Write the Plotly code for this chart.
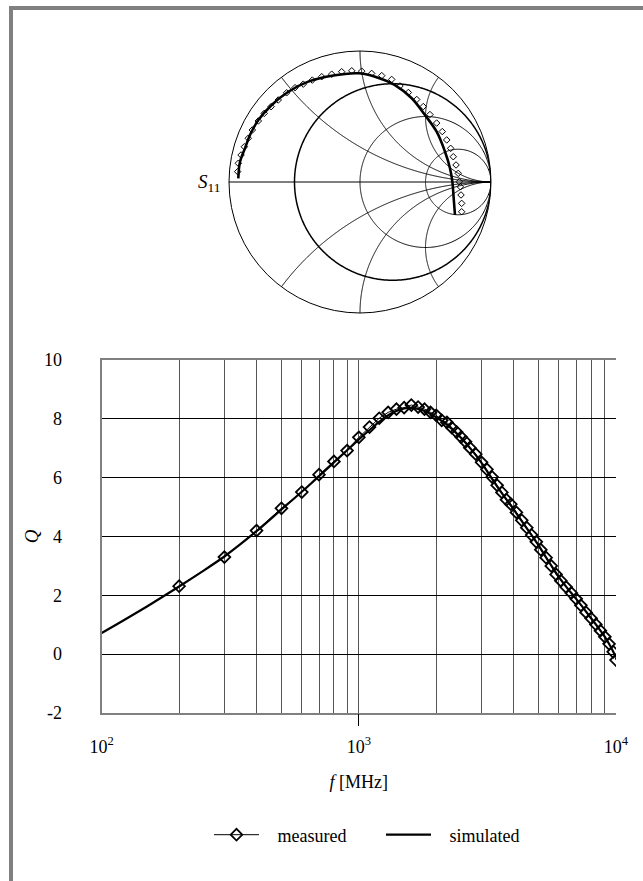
import numpy as np
import plotly.graph_objects as go

# ---------------- S11 (reflection coefficient, Re / Im) ----------------
s11_sim_re = [-0.929, -0.916, -0.878, -0.840, -0.776, -0.674, -0.547, -0.395, -0.216, -0.013,
              0.115, 0.267, 0.395, 0.496, 0.585, 0.649, 0.687, 0.705, 0.715, 0.725]
s11_sim_im = [0.028, 0.155, 0.257, 0.359, 0.473, 0.588, 0.689, 0.766, 0.811, 0.830,
              0.804, 0.740, 0.639, 0.511, 0.384, 0.231, 0.105, 0.002, -0.122, -0.252]

s11_meas_re = [-0.934, -0.929, -0.908, -0.883, -0.853, -0.822, -0.776, -0.731, -0.679, -0.624,
               -0.560, -0.496, -0.433, -0.364, -0.292, -0.216, -0.140, -0.063, 0.013, 0.089,
               0.166, 0.242, 0.305, 0.369, 0.433, 0.483, 0.534, 0.585, 0.628, 0.662,
               0.692, 0.712, 0.733, 0.750, 0.758, 0.766, 0.771, 0.776, 0.776]
s11_meas_im = [0.079, 0.143, 0.206, 0.269, 0.334, 0.397, 0.466, 0.524, 0.575, 0.626,
               0.681, 0.720, 0.747, 0.778, 0.804, 0.823, 0.842, 0.849, 0.846, 0.829,
               0.812, 0.783, 0.733, 0.683, 0.630, 0.576, 0.515, 0.450, 0.385, 0.321,
               0.257, 0.193, 0.130, 0.066, 0.002, -0.036, -0.099, -0.163, -0.227]

# ---------------- Quality factor versus frequency ----------------
f_sim = [100, 120, 150, 200, 250, 300, 400, 500, 600, 700, 800, 900, 1000, 1100, 1200,
         1300, 1400, 1500, 1600, 1700, 1800, 2000, 2200, 2500, 2800, 3000, 3500, 4000,
         4500, 5000, 5500, 6000, 6500, 7000, 7500, 8000, 8500, 9000, 9500, 10000]
q_sim = [0.72, 1.12, 1.62, 2.30, 2.85, 3.32, 4.18, 4.92, 5.52, 6.05, 6.52, 6.93, 7.30, 7.62, 7.90,
         8.12, 8.27, 8.35, 8.37, 8.34, 8.27, 8.05, 7.80, 7.35, 6.85, 6.50, 5.62, 4.92,
         4.28, 3.70, 3.12, 2.62, 2.22, 1.88, 1.55, 1.22, 0.92, 0.62, 0.28, -0.10]

f_meas = [200, 300, 400, 500, 600, 700, 800, 900, 1000,
          1100, 1200, 1300, 1400, 1500, 1600, 1700, 1800, 1900, 2000,
          2100, 2200, 2300, 2400, 2500, 2600, 2700, 2850, 3000, 3150,
          3300, 3450, 3600, 3750, 3900, 4100, 4300, 4500, 4700, 4900,
          5100, 5350, 5600, 5850, 6100, 6400, 6700, 7000, 7300, 7650,
          8000, 8350, 8700, 9050, 9400, 9750, 10000]
q_meas = [2.31, 3.30, 4.20, 4.96, 5.51, 6.10, 6.55, 6.92, 7.37,
          7.72, 8.02, 8.22, 8.33, 8.38, 8.47, 8.40, 8.33, 8.22, 8.12,
          7.95, 7.88, 7.70, 7.55, 7.38, 7.22, 7.02, 6.80, 6.52, 6.28,
          6.02, 5.74, 5.50, 5.25, 5.10, 4.82, 4.55, 4.30, 4.05, 3.82,
          3.55, 3.28, 3.00, 2.71, 2.50, 2.28, 2.08, 1.88, 1.66, 1.42,
          1.22, 1.01, 0.80, 0.59, 0.35, 0.08, -0.20]

# axis ticks
q_ticks = [-2, 0, 2, 4, 6, 8, 10]
f_grid = [100, 200, 300, 400, 500, 600, 700, 800, 900,
          1000, 2000, 3000, 4000, 5000, 6000, 7000, 8000, 9000, 10000]
f_labels = {100: "10<sup>2</sup>", 1000: "10<sup>3</sup>", 10000: "10<sup>4</sup>"}

# Smith chart grid: constant-resistance circles and constant-reactance arcs
smith_r_grid = [1 / 3, 1, 3]
smith_r_bold = 1 / 3
smith_x_grid = [-2, -1, -0.5, 0.5, 1, 2]


def gamma_to_z(re, im):
    """Reflection coefficient -> normalised impedance for the Smith axes."""
    g = np.asarray(re) + 1j * np.asarray(im)
    z = (1 + g) / (1 - g)
    return z.real, z.imag


W, H = 643, 881
SERIF = "Liberation Serif"
NBSP = "\u00a0"


def px(x):
    return x / W


def py(y):
    return (H - y) / H


fig = go.Figure()

# --- Smith chart grid, drawn as full curves up to the open-circuit point ---
sweep = np.tan(np.linspace(-np.pi / 2 + 1e-4, np.pi / 2 - 1e-4, 601))
for r in smith_r_grid:
    fig.add_trace(go.Scattersmith(real=np.full(sweep.size, r), imag=sweep, mode="lines",
                                  line=dict(color="black", width=1.5 if r == smith_r_bold else 1),
                                  showlegend=False, hoverinfo="skip"))
half = np.tan(np.linspace(0, np.pi / 2 - 1e-4, 401))
for x in smith_x_grid:
    fig.add_trace(go.Scattersmith(real=half, imag=np.full(half.size, x), mode="lines",
                                  line=dict(color="black", width=1),
                                  showlegend=False, hoverinfo="skip"))

# --- S11 traces ---
zr, zi = gamma_to_z(s11_sim_re, s11_sim_im)
fig.add_trace(go.Scattersmith(real=zr, imag=zi, mode="lines",
                              line=dict(color="black", width=2.6, shape="spline"),
                              showlegend=False, hoverinfo="skip"))
zr, zi = gamma_to_z(s11_meas_re, s11_meas_im)
fig.add_trace(go.Scattersmith(real=zr, imag=zi, mode="markers",
                              marker=dict(symbol="diamond-open", size=5, color="black",
                                          line=dict(width=1, color="black")),
                              showlegend=False, hoverinfo="skip"))

# --- Q(f) traces ---
fig.add_trace(go.Scatter(x=f_sim, y=q_sim, mode="lines", name=NBSP * 3 + "simulated",
                         line=dict(color="black", width=2.2, shape="spline", smoothing=0.6),
                         legendrank=2))
fig.add_trace(go.Scatter(x=f_meas, y=q_meas, mode="lines+markers", name=NBSP * 3 + "measured",
                         line=dict(color="black", width=1),
                         marker=dict(symbol="diamond-open", size=9, color="black",
                                     line=dict(width=1.8, color="black")),
                         legendrank=1))
# empty trace that keeps the 10^3 tick axis alive
fig.add_trace(go.Scatter(x=[], y=[], xaxis="x2", yaxis="y", showlegend=False,
                         hoverinfo="skip"))

grid_gray = "#555555"
frame_gray = "#808080"

fig.update_layout(
    width=W, height=H,
    margin=dict(l=0, r=0, t=0, b=0),
    paper_bgcolor="white", plot_bgcolor="white",
    font=dict(family=SERIF, size=17, color="black"),
    showlegend=True,
    legend=dict(orientation="h", x=px(209), xanchor="left", y=py(835), yanchor="middle",
                font=dict(family=SERIF, size=18), bgcolor="rgba(0,0,0,0)",
                itemwidth=45, entrywidth=112),
    smith=dict(
        domain=dict(x=[px(229), px(491)], y=[py(313), py(51)]),
        bgcolor="white",
        realaxis=dict(showticklabels=False, ticks="", showgrid=False,
                      showline=True, linecolor="black", linewidth=1),
        imaginaryaxis=dict(showticklabels=False, ticks="", showgrid=False,
                           showline=True, linecolor="black", linewidth=1),
    ),
    xaxis=dict(
        type="log", range=[2, 4], domain=[px(101.7), px(616)],
        anchor="y",
        tickmode="array", tickvals=f_grid,
        ticktext=[f_labels.get(v, "") for v in f_grid],
        ticks="", ticklabelstandoff=16,
        showgrid=True, gridcolor=grid_gray, gridwidth=1,
        showline=True, linecolor=frame_gray, linewidth=2, mirror=True,
        zeroline=False, automargin=False,
        tickfont=dict(family=SERIF, size=18),
        title=dict(text="<i>f</i> [MHz]", font=dict(family=SERIF, size=18), standoff=20),
    ),
    xaxis2=dict(
        type="log", range=[2, 4], domain=[px(101.7), px(616)],
        overlaying="x", anchor="y", side="bottom",
        tickmode="array", tickvals=[1000], ticks="outside", ticklen=12,
        tickcolor="black", tickwidth=1, showticklabels=False,
        showgrid=False, showline=False, zeroline=False, automargin=False,
    ),
    yaxis=dict(
        range=[-2, 10], domain=[py(713), py(360)],
        anchor="x",
        tickmode="array", tickvals=q_ticks, ticktext=[str(v) for v in q_ticks],
        ticks="", ticklabelstandoff=34,
        showgrid=True, gridcolor="black", gridwidth=1,
        showline=True, linecolor=frame_gray, linewidth=2,
        zeroline=False, automargin=False,
        tickfont=dict(family=SERIF, size=18),
        title=dict(text="<i>Q</i>", font=dict(family=SERIF, size=19), standoff=0),
    ),
    annotations=[
        dict(text="<i>S</i><sub>11</sub>", xref="paper", yref="paper",
             x=px(222), y=py(183), xanchor="right", yanchor="middle",
             showarrow=False, font=dict(family=SERIF, size=19)),
    ],
    shapes=[
        dict(type="rect", xref="paper", yref="paper", x0=px(9), x1=1, y0=py(10), y1=py(6),
             fillcolor=frame_gray, line=dict(width=0), layer="above"),
        dict(type="rect", xref="paper", yref="paper", x0=px(9), x1=px(13), y0=0, y1=py(6),
             fillcolor=frame_gray, line=dict(width=0), layer="above"),
    ],
)

fig.write_html("out.html")
